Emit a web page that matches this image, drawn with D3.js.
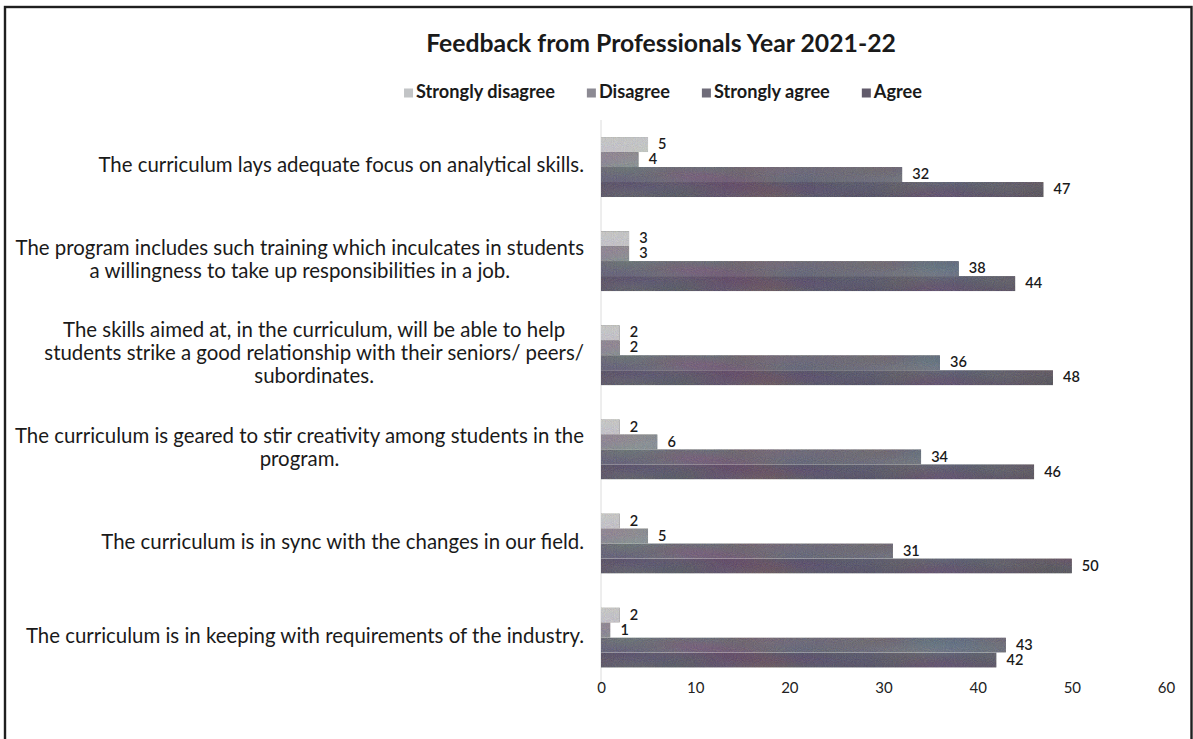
<!DOCTYPE html>
<html>
<head>
<meta charset="utf-8">
<script src="https://cdn.jsdelivr.net/npm/d3@7/dist/d3.min.js"></script>
<style>
  html, body { margin: 0; padding: 0; background: #fff; }
  svg { display: block; font-family: Lato, "Open Sans", sans-serif; }
</style>
</head>
<body>
<svg id="chart" width="1193" height="739"></svg>
<script>
// ---- data ----
const chartTitle = "Feedback from Professionals Year 2021-22";
const categories = [
  "The curriculum lays adequate focus on analytical skills.",
  "The program includes such training which inculcates in students\na willingness to take up responsibilities in a job.",
  "The skills aimed at, in the curriculum, will be able to help\nstudents strike a good relationship with their seniors/ peers/\nsubordinates.",
  "The curriculum is geared to stir creativity among students in the\nprogram.",
  "The curriculum is in sync with the changes in our field.",
  "The curriculum is in keeping with requirements of the industry."
];
const seriesNames = ["Strongly disagree", "Disagree", "Strongly agree", "Agree"];
const stronglyDisagree = [5, 3, 2, 2, 2, 2];
const disagree = [4, 3, 2, 6, 5, 1];
const stronglyAgree = [32, 38, 36, 34, 31, 43];
const agree = [47, 44, 48, 46, 50, 42];
const xTicks = [0, 10, 20, 30, 40, 50, 60];

const seriesValues = [stronglyDisagree, disagree, stronglyAgree, agree];
const seriesColors = ["#c2c4c6", "#8c8a93", "#6f6c79", "#615b6b"];

// ---- layout ----
const svg = d3.select("#chart");

// outer frame
svg.append("rect")
  .attr("x", 5).attr("y", 7)
  .attr("width", 1186.5).attr("height", 745)
  .attr("fill", "#fff")
  .attr("stroke", "#1f1f1f").attr("stroke-width", 2.4);

// grain texture for bars
const defs = svg.append("defs");
const flt = defs.append("filter").attr("id", "grain")
  .attr("x", 0).attr("y", 0).attr("width", 1).attr("height", 1)
  .attr("color-interpolation-filters", "sRGB");
flt.append("feTurbulence").attr("type", "fractalNoise")
  .attr("baseFrequency", "0.01 0.04").attr("numOctaves", 2).attr("seed", 7)
  .attr("result", "big");
flt.append("feColorMatrix").attr("in", "big").attr("type", "matrix")
  .attr("values", "1 0 0 0 0  0 1 0 0 0  0 0 1 0 0  0 0 0 0 1").attr("result", "bigc");
flt.append("feTurbulence").attr("type", "fractalNoise")
  .attr("baseFrequency", "1.1").attr("numOctaves", 1).attr("seed", 3)
  .attr("result", "fine");
flt.append("feColorMatrix").attr("in", "fine").attr("type", "matrix")
  .attr("values", "0.7 0.3 0 0 0  0.3 0.7 0 0 0  0 0.3 0.7 0 0  0 0 0 0 1").attr("result", "finec");
flt.append("feComposite").attr("in", "SourceGraphic").attr("in2", "bigc")
  .attr("operator", "arithmetic").attr("k1", 0).attr("k2", 1).attr("k3", 0.14).attr("k4", -0.07)
  .attr("result", "s1");
flt.append("feComposite").attr("in", "s1").attr("in2", "finec")
  .attr("operator", "arithmetic").attr("k1", 0).attr("k2", 1).attr("k3", 0.2).attr("k4", -0.1)
  .attr("result", "s2");
flt.append("feComposite").attr("in", "s2").attr("in2", "SourceGraphic").attr("operator", "in");

// scales
const x = d3.scaleLinear().domain([0, 60]).range([601, 1166]);
const y = d3.scaleBand().domain(d3.range(categories.length)).range([120, 684.6]).padding(0);
const yInner = d3.scaleBand().domain(d3.range(seriesNames.length))
  .range([y.bandwidth() / 2 - 30, y.bandwidth() / 2 + 30]).padding(0);

// helper to size text to a target width
function fitSize(text, weight, targetWidth) {
  const t = svg.append("text").attr("font-size", 20).attr("font-weight", weight).text(text);
  const w = t.node().getComputedTextLength();
  t.remove();
  return 20 * targetWidth / w;
}

// title
const titleSize = fitSize(chartTitle, "bold", 470);
svg.append("text")
  .attr("x", 661).attr("y", 46)
  .attr("text-anchor", "middle").attr("dominant-baseline", "middle")
  .attr("font-size", titleSize).attr("font-weight", "bold").attr("fill", "#1a1a1a")
  .text(chartTitle);

// legend
const legSize = fitSize("Strongly agree", "bold", 116);
const legGap = 32;
const legend = svg.append("g");
let lx = 0;
seriesNames.forEach((name, i) => {
  const g = legend.append("g").attr("transform", `translate(${lx},0)`);
  g.append("rect").attr("x", 0).attr("y", -4.5).attr("width", 9).attr("height", 9)
    .attr("fill", seriesColors[i]);
  const t = g.append("text").attr("x", 12).attr("y", 0.5)
    .attr("dominant-baseline", "middle")
    .attr("font-size", legSize).attr("font-weight", "bold").attr("fill", "#1a1a1a")
    .text(name);
  lx += 12 + t.node().getComputedTextLength() + legGap;
});
const legW = lx - legGap;
legend.attr("transform", `translate(${663 - legW / 2},93)`);

// category axis line
svg.append("line")
  .attr("x1", x(0)).attr("x2", x(0))
  .attr("y1", y.range()[0]).attr("y2", y.range()[1])
  .attr("stroke", "#dcdcdc").attr("stroke-width", 1);

// bars
const groups = svg.append("g").selectAll("g")
  .data(categories)
  .join("g")
  .attr("transform", (d, i) => `translate(0,${y(i)})`);

groups.selectAll("rect")
  .data((d, i) => seriesValues.map((vals, s) => ({ s, v: vals[i] })))
  .join("rect")
  .attr("x", x(0))
  .attr("y", d => yInner(d.s))
  .attr("width", d => x(d.v) - x(0))
  .attr("height", yInner.bandwidth())
  .attr("fill", d => seriesColors[d.s])
  .attr("filter", "url(#grain)");

groups.selectAll("text.val")
  .data((d, i) => seriesValues.map((vals, s) => ({ s, v: vals[i] })))
  .join("text")
  .attr("class", "val")
  .attr("x", d => x(d.v) + 10)
  .attr("y", d => yInner(d.s) + yInner.bandwidth() / 2 + 1)
  .attr("dominant-baseline", "middle")
  .attr("font-size", 14.5).attr("font-weight", 600).attr("fill", "#1a1a1a")
  .text(d => d.v);

// category labels
const catSize = fitSize(categories[0], "normal", 486);
const lineH = 23;
categories.forEach((c, i) => {
  const lines = c.split("\n");
  const g = svg.append("g");
  const texts = lines.map(l => g.append("text")
    .attr("font-size", catSize).attr("fill", "#1a1a1a")
    .attr("text-anchor", "middle").attr("dominant-baseline", "middle")
    .text(l));
  const maxW = d3.max(texts, t => t.node().getComputedTextLength());
  const cx = 584 - maxW / 2;
  const cy = y(i) + y.bandwidth() / 2;
  texts.forEach((t, k) => t.attr("x", cx).attr("y", cy + (k - (lines.length - 1) / 2) * lineH));
});

// value axis
const axis = d3.axisBottom(x).tickValues(xTicks).tickSize(0).tickPadding(3);
const ax = svg.append("g").attr("transform", "translate(0,679)").call(axis);
ax.select(".domain").remove();
ax.selectAll("text").attr("font-size", 15).attr("fill", "#222")
  .attr("font-family", "Lato, 'Open Sans', sans-serif");
</script>
</body>
</html>
